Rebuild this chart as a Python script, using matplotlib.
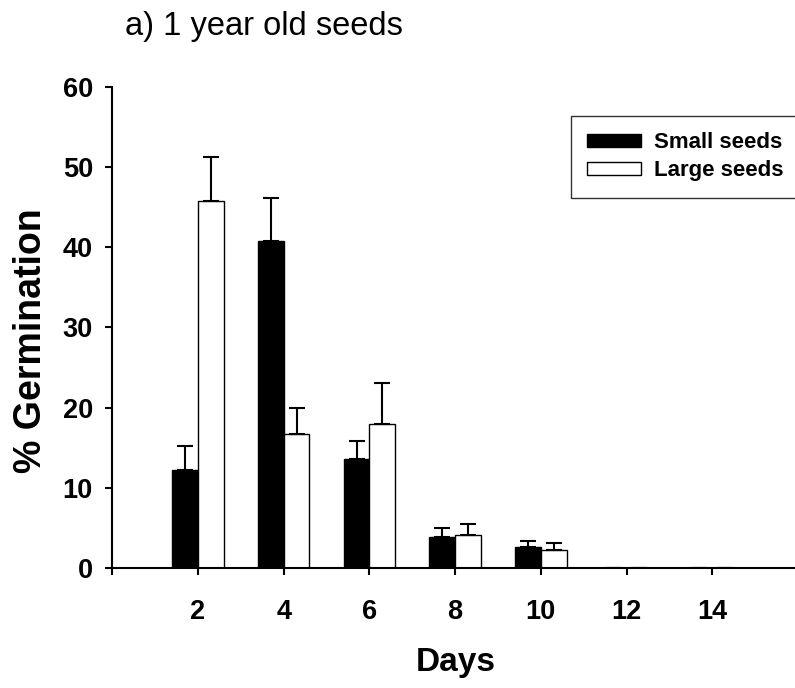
"""
Germination of 1 year old seeds: small vs large seeds, % germination per day.
Bar chart with one-sided (upper) error bars, saved to out.png.
"""

import numpy as np

import matplotlib

matplotlib.use("Agg")  # no display
import matplotlib.pyplot as plt

plt.rcParams["font.family"] = ["Liberation Sans", "DejaVu Sans"]

# ---------------------------------------------------------------------------
# data
# ---------------------------------------------------------------------------
days = [2, 4, 6, 8, 10, 12, 14]
small_mean = [12.2, 40.8, 13.6, 3.9, 2.6, 0.0, 0.0]
small_err = [3.0, 5.3, 2.2, 1.1, 0.8, 0.0, 0.0]
large_mean = [45.7, 16.7, 18.0, 4.1, 2.3, 0.0, 0.0]
large_err = [5.5, 3.3, 5.1, 1.4, 0.8, 0.0, 0.0]
series_labels = ["Small seeds", "Large seeds"]
title = "a) 1 year old seeds"


def main() -> None:
    fig = plt.figure(figsize=(7.95, 6.88), dpi=100)
    ax = fig.add_axes([0.1413, 0.174, 0.8624, 0.700])

    x = np.array(days, dtype=float)
    width = 0.6
    err_kw = dict(ecolor="black", elinewidth=1.5, capsize=5.5, capthick=1.5)

    # only the upper half of each error bar is drawn
    ax.bar(x - width / 2, small_mean, width, color="black", edgecolor="black",
           linewidth=1.0, yerr=[np.zeros(len(days)), small_err],
           error_kw=err_kw, label=series_labels[0], zorder=2)
    ax.bar(x + width / 2, large_mean, width, color="white", edgecolor="black",
           linewidth=1.0, yerr=[np.zeros(len(days)), large_err],
           error_kw=err_kw, label=series_labels[1], zorder=2)

    ax.set_xlim(0, 16)
    ax.set_ylim(0, 60)
    ax.set_xticks([0] + days)
    ax.set_xticklabels([""] + [str(d) for d in days])
    ax.set_yticks(np.arange(0, 61, 10))

    for side in ("top", "right"):
        ax.spines[side].set_visible(False)
    for side in ("left", "bottom"):
        ax.spines[side].set_linewidth(1.5)

    ax.tick_params(axis="both", direction="out", length=5, width=1.5,
                   labelsize=19.5)
    ax.tick_params(axis="x", pad=17)
    ax.tick_params(axis="y", pad=9)
    for lab in ax.get_xticklabels() + ax.get_yticklabels():
        lab.set_fontweight("bold")

    # axis titles placed in figure coordinates
    fig.text(456 / 795, 1 - 663 / 688, "Days", fontsize=24, fontweight="bold",
             ha="center", va="center")
    fig.text(31 / 795, 1 - 341 / 688, "% Germination", fontsize=27,
             fontweight="bold", rotation=90, ha="center", va="center")
    fig.text(264 / 795, 1 - 27 / 688, title, fontsize=23.5, ha="center",
             va="center")

    # legend box runs off the right edge, as in the original
    leg = ax.legend(loc="upper left", bbox_to_anchor=(0.718, 0.5, 0.32, 0.3318),
                    bbox_transform=fig.transFigure, mode="expand",
                    borderaxespad=0.0,
                    prop=dict(size=16, weight="bold"), frameon=True,
                    fancybox=False, borderpad=0.75, handlelength=2.4,
                    handleheight=0.5, handletextpad=0.6, labelspacing=0.32)
    leg.get_frame().set_edgecolor("black")
    leg.get_frame().set_linewidth(1.0)

    fig.savefig("out.png", dpi=100)
    plt.close(fig)


if __name__ == "__main__":
    main()
